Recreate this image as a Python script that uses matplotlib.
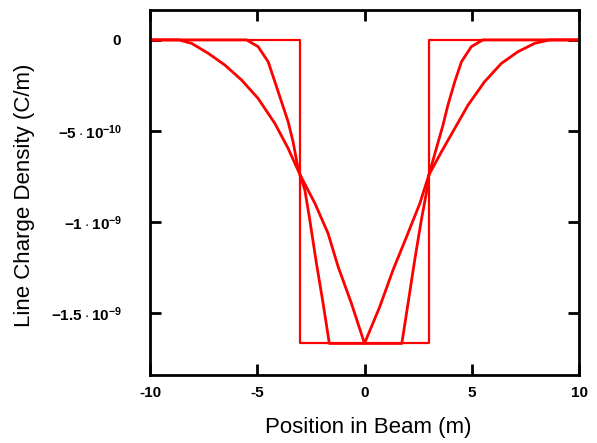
import matplotlib
matplotlib.use("Agg")
import matplotlib.pyplot as plt
import numpy as np

# Data (units of 1e-9 C/m)
x_rect = [-10, -3.0, -3.0, 3.0, 3.0, 10]
y_rect = [0, 0, -1.665, -1.665, 0, 0]

x_mid = [-10, -5.50, -4.96, -4.49, -4.18, -3.87, -3.56, -3.33, -3.12, -3.0, -2.78, -2.55, -2.24, -1.93, -1.64,
         1.74, 2.03, 2.34, 2.65, 2.96, 3.0, 3.35, 3.66, 3.89, 4.21, 4.52, 4.98, 5.52, 10]
y_mid = [0, 0, -0.037, -0.120, -0.229, -0.339, -0.449, -0.559, -0.690, -0.741, -0.824, -0.988, -1.226, -1.445, -1.665,
         -1.665, -1.445, -1.208, -0.988, -0.790, -0.741, -0.595, -0.467, -0.357, -0.229, -0.120, -0.037, 0, 0]

x_wide = [-10, -8.65, -8.06, -7.28, -6.51, -5.73, -4.96, -4.18, -3.56, -3.0, -2.31, -1.70, -1.23, -0.61, 0.0,
          0.71, 1.33, 1.96, 2.58, 3.0, 3.59, 4.21, 4.83, 5.60, 6.38, 7.15, 7.93, 8.63, 10]
y_wide = [0, 0, -0.019, -0.074, -0.138, -0.220, -0.321, -0.458, -0.595, -0.741, -0.897, -1.061, -1.244, -1.445, -1.665,
          -1.464, -1.262, -1.080, -0.897, -0.741, -0.613, -0.485, -0.357, -0.229, -0.129, -0.065, -0.019, 0, 0]

xticks = [-10, -5, 0, 5, 10]
xticklabels = ["-10", "-5", "0", "5", "10"]
yticks = [0, -0.5, -1.0, -1.5]
yticklabels = [r"$\mathbf{0}$", r"$\mathbf{-5\cdot10^{-10}}$", r"$\mathbf{-1\cdot10^{-9}}$", r"$\mathbf{-1.5\cdot10^{-9}}$"]

plt.rcParams['font.family'] = ['Liberation Sans', 'DejaVu Sans']
plt.rcParams['mathtext.fontset'] = 'custom'
plt.rcParams['mathtext.bf'] = 'Liberation Sans:bold'
plt.rcParams['mathtext.rm'] = 'Liberation Sans'

fig = plt.figure(figsize=(5.97, 4.43), dpi=100)
ax = fig.add_axes([150/597, 1-375/443, (579-150)/597, (375-10)/443])

red = "#ff0000"
ax.plot(np.array(x_rect), np.array(y_rect), color=red, lw=1.6)
ax.plot(np.array(x_mid), np.array(y_mid), color=red, lw=2.0)
ax.plot(np.array(x_wide), np.array(y_wide), color=red, lw=2.0)

ax.set_xlim(-10, 10)
ax.set_ylim(-1.838, 0.164)

ax.set_xticks(xticks)
ax.set_xticklabels(xticklabels, fontsize=11, fontweight='bold')
ax.set_yticks(yticks)
ax.set_yticklabels(yticklabels, fontsize=11)

ax.tick_params(direction='in', length=8, width=2, top=True, right=True, pad=8)
ax.tick_params(axis='y', pad=20)
for s in ax.spines.values():
    s.set_linewidth(2)

fig.text(25/597, 1-195/443, "Line Charge Density (C/m)", rotation=90, ha='center', va='center', fontsize=16)
fig.text(368/597, 1-427/443, "Position in Beam (m)", ha='center', va='center', fontsize=16)

fig.savefig("out.png", dpi=100)
